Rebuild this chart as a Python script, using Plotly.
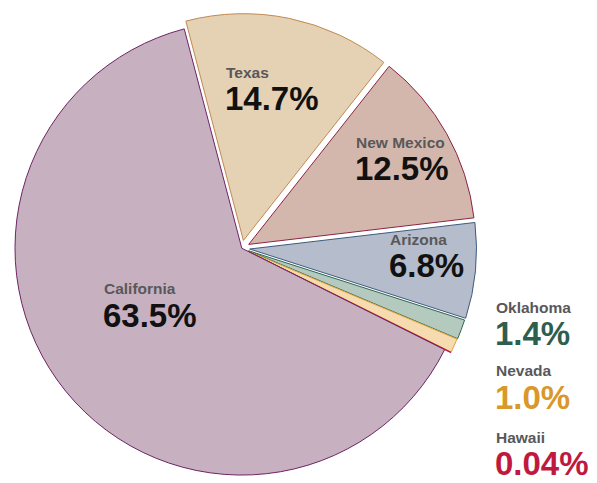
import plotly.graph_objects as go

# ---- data ----
states = ["Texas", "New Mexico", "Arizona", "Oklahoma", "Nevada", "Hawaii", "California"]
shares = [14.7, 12.5, 6.8, 1.4, 1.0, 0.04, 63.5]
share_text = ["14.7%", "12.5%", "6.8%", "1.4%", "1.0%", "0.04%", "63.5%"]

# ---- styles ----
fills = ["#e5d1b4", "#d4b7ac", "#b5bccb", "#b4cabf", "#f5dbaf", "#e4a4ad", "#c7b0bf"]
edges = ["#c08a52", "#8c2443", "#3e5b7e", "#2f6453", "#e1a236", "#c4163c", "#6e2465"]
pulls = [0.035, 0.035, 0.035, 0.032, 0.03, 0.03, 0.0]

W, H = 597, 483
fig = go.Figure()
fig.add_trace(go.Pie(
    labels=states, values=shares, sort=False, direction="clockwise",
    rotation=-14.7, pull=pulls, textinfo="none", hoverinfo="label+percent",
    marker=dict(colors=fills, line=dict(color=edges, width=1)),
    domain=dict(x=[0.005, 0.805], y=[0.0, 0.972]),
    showlegend=False,
))

FONT = "Liberation Sans, Arial, Helvetica, sans-serif"
name_color = "#58585a"
pct_colors = ["#111111", "#111111", "#111111", "#2e5e4e", "#d9982a", "#c0193f", "#111111"]
# label anchor (left x, name centre y, percent centre y) in pixels
label_pos = {
    "Texas": (227, 72, 98),
    "New Mexico": (357, 142.5, 168.5),
    "Arizona": (391, 239.5, 265.5),
    "Oklahoma": (497, 307, 333),
    "Nevada": (497, 370, 397),
    "Hawaii": (497, 437, 463),
    "California": (105, 288, 315),
}

anns = []
for s, t, pc in zip(states, share_text, pct_colors):
    x, yn, yp = label_pos[s]
    anns.append(dict(x=(x - 2) / W, y=1 - yn / H, xref="paper", yref="paper",
                     xanchor="left", yanchor="middle", showarrow=False, borderpad=0,
                     text=f"<b>{s}</b>", font=dict(family=FONT, size=15.5, color=name_color)))
    anns.append(dict(x=(x - 3) / W, y=1 - yp / H, xref="paper", yref="paper",
                     xanchor="left", yanchor="middle", showarrow=False, borderpad=0,
                     text=f"<b>{t}</b>", font=dict(family=FONT, size=33, color=pc)))

fig.update_layout(
    width=W, height=H, margin=dict(l=0, r=0, t=0, b=0),
    paper_bgcolor="white", plot_bgcolor="white",
    annotations=anns,
)
fig.write_html("out.html", config={"displayModeBar": False},
               post_script="document.body.style.margin='0';")
